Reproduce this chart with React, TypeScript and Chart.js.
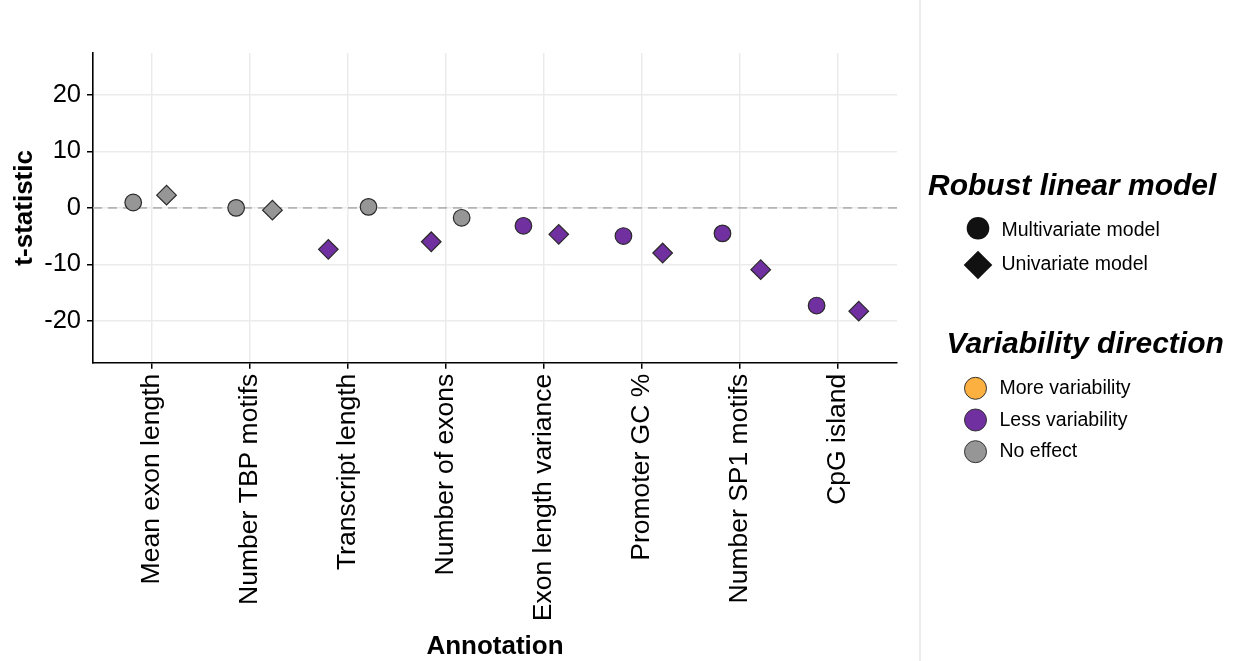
import React, { useEffect, useRef } from "react";
import { Chart, registerables } from "chart.js";

Chart.register(...registerables);

const categories = [
  "Mean exon length",
  "Number TBP motifs",
  "Transcript length",
  "Number of exons",
  "Exon length variance",
  "Promoter GC %",
  "Number SP1 motifs",
  "CpG island",
];
const multivariateT = [0.95, 0.0, 0.18, -1.76, -3.18, -4.99, -4.52, -17.29];
const univariateT = [2.24, -0.41, -7.34, -6.0, -4.69, -7.99, -10.94, -18.28];
const multivariateDirection = [
  "No effect", "No effect", "No effect", "No effect",
  "Less variability", "Less variability", "Less variability", "Less variability",
];
const univariateDirection = [
  "No effect", "No effect", "Less variability", "Less variability",
  "Less variability", "Less variability", "Less variability", "Less variability",
];
// horizontal jitter of each point (in category units)
const multivariateJitter = [-0.19, -0.14, 0.21, 0.16, -0.21, -0.19, -0.18, -0.22];
const univariateJitter = [0.15, 0.23, -0.2, -0.15, 0.15, 0.21, 0.21, 0.21];
const yTicks = [-20, -10, 0, 10, 20];
const directionLabels = ["More variability", "Less variability", "No effect"];
const modelLabels = ["Multivariate model", "Univariate model"];

const directionColor: Record<string, string> = {
  "More variability": "#FBB040",
  "Less variability": "#7030A0",
  "No effect": "#969696",
};

const FONT = "'Liberation Sans', Arial, Helvetica, sans-serif";

const zeroLinePlugin = {
  id: "zeroLine",
  beforeDatasetsDraw(chart: any) {
    const { ctx, chartArea, scales } = chart;
    const y = scales.y.getPixelForValue(0);
    ctx.save();
    ctx.strokeStyle = "#b5b5b5";
    ctx.lineWidth = 1.6;
    ctx.setLineDash([9, 6]);
    ctx.beginPath();
    ctx.moveTo(chartArea.left, y);
    ctx.lineTo(chartArea.right, y);
    ctx.stroke();
    ctx.restore();
  },
};

function ChartCanvas() {
  const ref = useRef<HTMLCanvasElement | null>(null);
  useEffect(() => {
    if (!ref.current) return;
    const multiData = categories.map((_, i) => ({ x: i + 1 + multivariateJitter[i], y: multivariateT[i] }));
    const uniData = categories.map((_, i) => ({ x: i + 1 + univariateJitter[i], y: univariateT[i] }));
    const chart = new Chart(ref.current, {
      type: "scatter",
      data: {
        datasets: [
          {
            label: modelLabels[0],
            data: multiData,
            pointStyle: "circle",
            pointRadius: 8.3,
            pointHoverRadius: 8.3,
            pointBackgroundColor: multivariateDirection.map((d) => directionColor[d]),
            pointBorderColor: "#2a2a2a",
            pointBorderWidth: 1.2,
          },
          {
            label: modelLabels[1],
            data: uniData,
            pointStyle: "rectRot",
            pointRadius: 9.8,
            pointHoverRadius: 9.8,
            pointBackgroundColor: univariateDirection.map((d) => directionColor[d]),
            pointBorderColor: "#2a2a2a",
            pointBorderWidth: 1.2,
          },
        ],
      },
      options: {
        animation: false,
        responsive: false,
        events: [],
        layout: { padding: { left: 9, top: 53, right: 22, bottom: 0 } },
        plugins: { legend: { display: false }, tooltip: { enabled: false } },
        scales: {
          x: {
            type: "linear",
            min: 0.4,
            max: 8.6,
            afterBuildTicks: (scale: any) => {
              scale.ticks = categories.map((_, i) => ({ value: i + 1 }));
            },
            afterFit: (scale: any) => {
              scale.height = 661 - 362.7;
            },
            ticks: {
              autoSkip: false,
              minRotation: 90,
              maxRotation: 90,
              padding: 5,
              color: "#000",
              font: { family: FONT, size: 26.5 },
              callback: (v: any) => categories[Math.round(Number(v)) - 1] ?? "",
            },
            grid: {
              color: "#ebebeb",
              lineWidth: 1.5,
              tickColor: "#000",
              tickLength: 6,
              tickWidth: 1.5,
            },
            border: { display: true, color: "#000", width: 1.6 },
            title: {
              display: true,
              text: "Annotation",
              color: "#000",
              font: { family: FONT, size: 26, weight: "bold" },
              padding: { top: 0, bottom: -1.5 },
            },
          },
          y: {
            type: "linear",
            min: -27.4,
            max: 27.4,
            afterBuildTicks: (scale: any) => {
              scale.ticks = yTicks.map((v) => ({ value: v }));
            },
            afterFit: (scale: any) => {
              scale.width = 93 - 9;
            },
            ticks: {
              padding: 6,
              color: "#000",
              font: { family: FONT, size: 25.5 },
              callback: (v: any) => String(v),
            },
            grid: {
              color: "#ebebeb",
              lineWidth: 1.5,
              tickColor: "#000",
              tickLength: 6,
              tickWidth: 1.5,
            },
            border: { display: true, color: "#000", width: 1.6 },
            title: {
              display: true,
              text: "t-statistic",
              color: "#000",
              font: { family: FONT, size: 26, weight: "bold" },
              padding: { top: 0, bottom: 0 },
            },
          },
        },
      },
      plugins: [zeroLinePlugin],
    });
    return () => chart.destroy();
  }, []);
  return (
    <canvas
      ref={ref}
      width={919}
      height={661}
      style={{ position: "absolute", left: 0, top: 0, width: 919, height: 661 }}
    />
  );
}

const txt = (size: number, extra: React.CSSProperties = {}): React.CSSProperties => ({
  position: "absolute",
  fontFamily: FONT,
  fontSize: size,
  lineHeight: `${size}px`,
  whiteSpace: "nowrap",
  color: "#000",
  ...extra,
});

function Legend() {
  const titleStyle = { fontWeight: "bold" as const, fontStyle: "italic" as const };
  const modelY = [228.3, 265];
  const dirY = [388.3, 420, 451.7];
  return (
    <>
      <div style={{ position: "absolute", left: 919, top: 0, width: 1.5, height: 661, background: "#ececec" }} />
      <svg
        width={1236}
        height={661}
        style={{ position: "absolute", left: 0, top: 0, pointerEvents: "none" }}
      >
        <circle cx={978} cy={modelY[0]} r={11.3} fill="#111" />
        <polygon
          points={`978,${modelY[1] - 14.3} ${978 + 14.3},${modelY[1]} 978,${modelY[1] + 14.3} ${978 - 14.3},${modelY[1]}`}
          fill="#111"
        />
        {directionLabels.map((d, i) => (
          <circle key={d} cx={975.5} cy={dirY[i]} r={11} fill={directionColor[d]} stroke="#333" strokeWidth={1} />
        ))}
      </svg>
      <div style={txt(30, { left: 928, top: 170.3, ...titleStyle })}>Robust linear model</div>
      <div style={txt(19.5, { left: 1001.5, top: 219.5 })}>{modelLabels[0]}</div>
      <div style={txt(19.5, { left: 1001.5, top: 254.2 })}>{modelLabels[1]}</div>
      <div style={txt(30, { left: 946.5, top: 327.9, ...titleStyle })}>Variability direction</div>
      {directionLabels.map((d, i) => (
        <div key={d} style={txt(19.5, { left: 999.5, top: dirY[i] + 6.2 - 16.5 })}>
          {d}
        </div>
      ))}
    </>
  );
}

export default function App() {
  return (
    <div
      style={{
        position: "fixed",
        left: 0,
        top: 0,
        width: 1236,
        height: 661,
        background: "#fff",
        overflow: "hidden",
      }}
    >
      <ChartCanvas />
      <Legend />
    </div>
  );
}
